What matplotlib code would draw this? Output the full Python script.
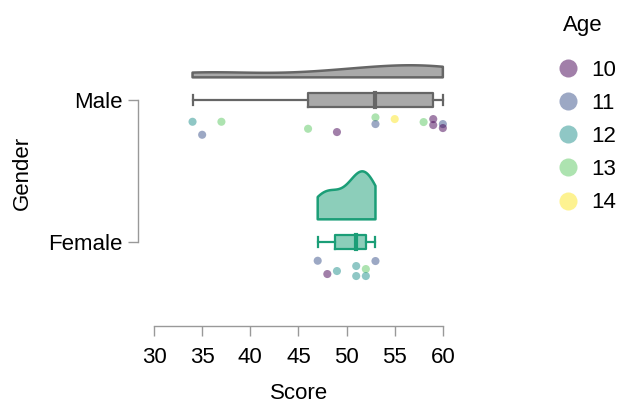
import numpy as np
import matplotlib
matplotlib.use("Agg")
import matplotlib.pyplot as plt
from matplotlib.lines import Line2D

plt.rcParams["font.family"] = ["Liberation Sans", "DejaVu Sans"]

# data
male_scores = [34, 35, 37, 46, 49, 53, 53, 55, 58, 59, 59, 60, 60]
male_ages = [12, 11, 13, 13, 10, 13, 11, 14, 13, 10, 10, 11, 10]
male_jitter = [21.7, 34.7, 21.7, 28.7, 32, 17.3, 24, 19, 22, 19, 25, 24, 28]

female_scores = [47, 48, 49, 51, 51, 52, 52, 53]
female_ages = [11, 10, 12, 12, 12, 13, 12, 11]
female_jitter = [18.7, 32, 29, 24, 34, 27, 34, 19]

genders = ["Female", "Male"]
ages = [10, 11, 12, 13, 14]
age_colors = ["#440154", "#3b528b", "#21908c", "#5dc863", "#fde725"]
fill_colors = {"Male": "#555555", "Female": "#1b9e77"}
edge_colors = {"Male": "#666666", "Female": "#1b9e77"}

PX = 142.0  # pixels per y unit in the reference
FS = 16


def bw_nrd0(x):
    x = np.asarray(x, float)
    sd = x.std(ddof=1)
    q1, q3 = np.percentile(x, [25, 75])
    lo = min(sd, (q3 - q1) / 1.34)
    return 0.9 * lo * len(x) ** -0.2


def kde(x, grid):
    x = np.asarray(x, float)
    h = bw_nrd0(x)
    z = (grid[:, None] - x[None, :]) / h
    return np.exp(-0.5 * z ** 2).sum(axis=1) / (len(x) * h * np.sqrt(2 * np.pi))


fig = plt.figure(figsize=(6.19, 4.05), dpi=100)
ax = fig.add_axes([0.223, 0.195, 0.508, 0.669])

groups = {"Male": (male_scores, male_ages, male_jitter),
          "Female": (female_scores, female_ages, female_jitter)}

dens = {}
for g, (sc, _, _) in groups.items():
    grid = np.linspace(min(sc), max(sc), 200)
    dens[g] = (grid, kde(sc, grid))
scale = 0.338 / max(d.max() for _, d in dens.values())

for i, g in enumerate(genders):
    ypos = i + 1
    sc, ag, jit = groups[g]
    fc, ec = fill_colors[g], edge_colors[g]

    # flat violin
    grid, d = dens[g]
    base = ypos + 0.16
    xs = np.concatenate([grid, grid[::-1]])
    ys = np.concatenate([base + d * scale, np.full_like(grid, base)])
    ax.fill(xs, ys, facecolor=fc, alpha=0.5, lw=0)
    ax.fill(xs, ys, facecolor="none", edgecolor=ec, lw=1.8, joinstyle="round")

    # boxplot
    q1, med, q3 = np.percentile(sc, [25, 50, 75])
    hb = 0.052
    ax.fill([q1, q3, q3, q1], [ypos - hb, ypos - hb, ypos + hb, ypos + hb],
            facecolor=fc, alpha=0.5, lw=0)
    ax.plot([q1, q3, q3, q1, q1], [ypos - hb, ypos - hb, ypos + hb, ypos + hb, ypos - hb],
            color=ec, lw=1.6)
    ax.plot([med, med], [ypos - hb, ypos + hb], color=ec, lw=3)
    ax.plot([min(sc), q1], [ypos, ypos], color=ec, lw=1.6)
    ax.plot([q3, max(sc)], [ypos, ypos], color=ec, lw=1.6)
    for e in (min(sc), max(sc)):
        ax.plot([e, e], [ypos - 0.036, ypos + 0.036], color=ec, lw=1.6)

    # rain
    cols = [age_colors[ages.index(a)] for a in ag]
    yy = ypos - np.array(jit) / PX
    ax.scatter(sc, yy, s=34, c=cols, alpha=0.5, lw=0, zorder=3)

ax.set_xlim(28.34, 61.0)
ax.set_ylim(1 - 84 / PX, 2 + 45 / PX)
ax.set_xticks(range(30, 61, 5))
ax.set_yticks([1, 2])
ax.set_yticklabels(genders)

for s in ("top", "right"):
    ax.spines[s].set_visible(False)
ax.spines["bottom"].set_bounds(30, 60)
ax.spines["left"].set_bounds(1, 2)
for s in ("bottom", "left"):
    ax.spines[s].set_color("#999999")
    ax.spines[s].set_linewidth(1.0)
ax.tick_params(axis="both", colors="#999999", length=7, width=1.0,
               labelsize=FS, labelcolor="black")
ax.tick_params(axis="x", pad=8)
ax.tick_params(axis="y", pad=4)

ax.set_xlabel("Score", fontsize=FS)
ax.set_ylabel("Gender", fontsize=FS)
ax.xaxis.set_label_coords(0.512, -0.212)
ax.yaxis.set_label_coords(-0.335, 0.565)

handles = [Line2D([], [], ls="none", marker="o", ms=13, mew=0,
                  color=c, alpha=0.5) for c in age_colors]
fig.text(563 / 619, 1 - 26 / 405, "Age", fontsize=FS, ha="left", va="center")
leg = fig.legend(handles, [str(a) for a in ages],
                 loc="upper left", bbox_to_anchor=(0.896, 0.853),
                 frameon=False, fontsize=FS, borderaxespad=0, borderpad=0,
                 labelspacing=0.55, handletextpad=0.45, handlelength=1.2)

fig.savefig("out.png", dpi=100)
